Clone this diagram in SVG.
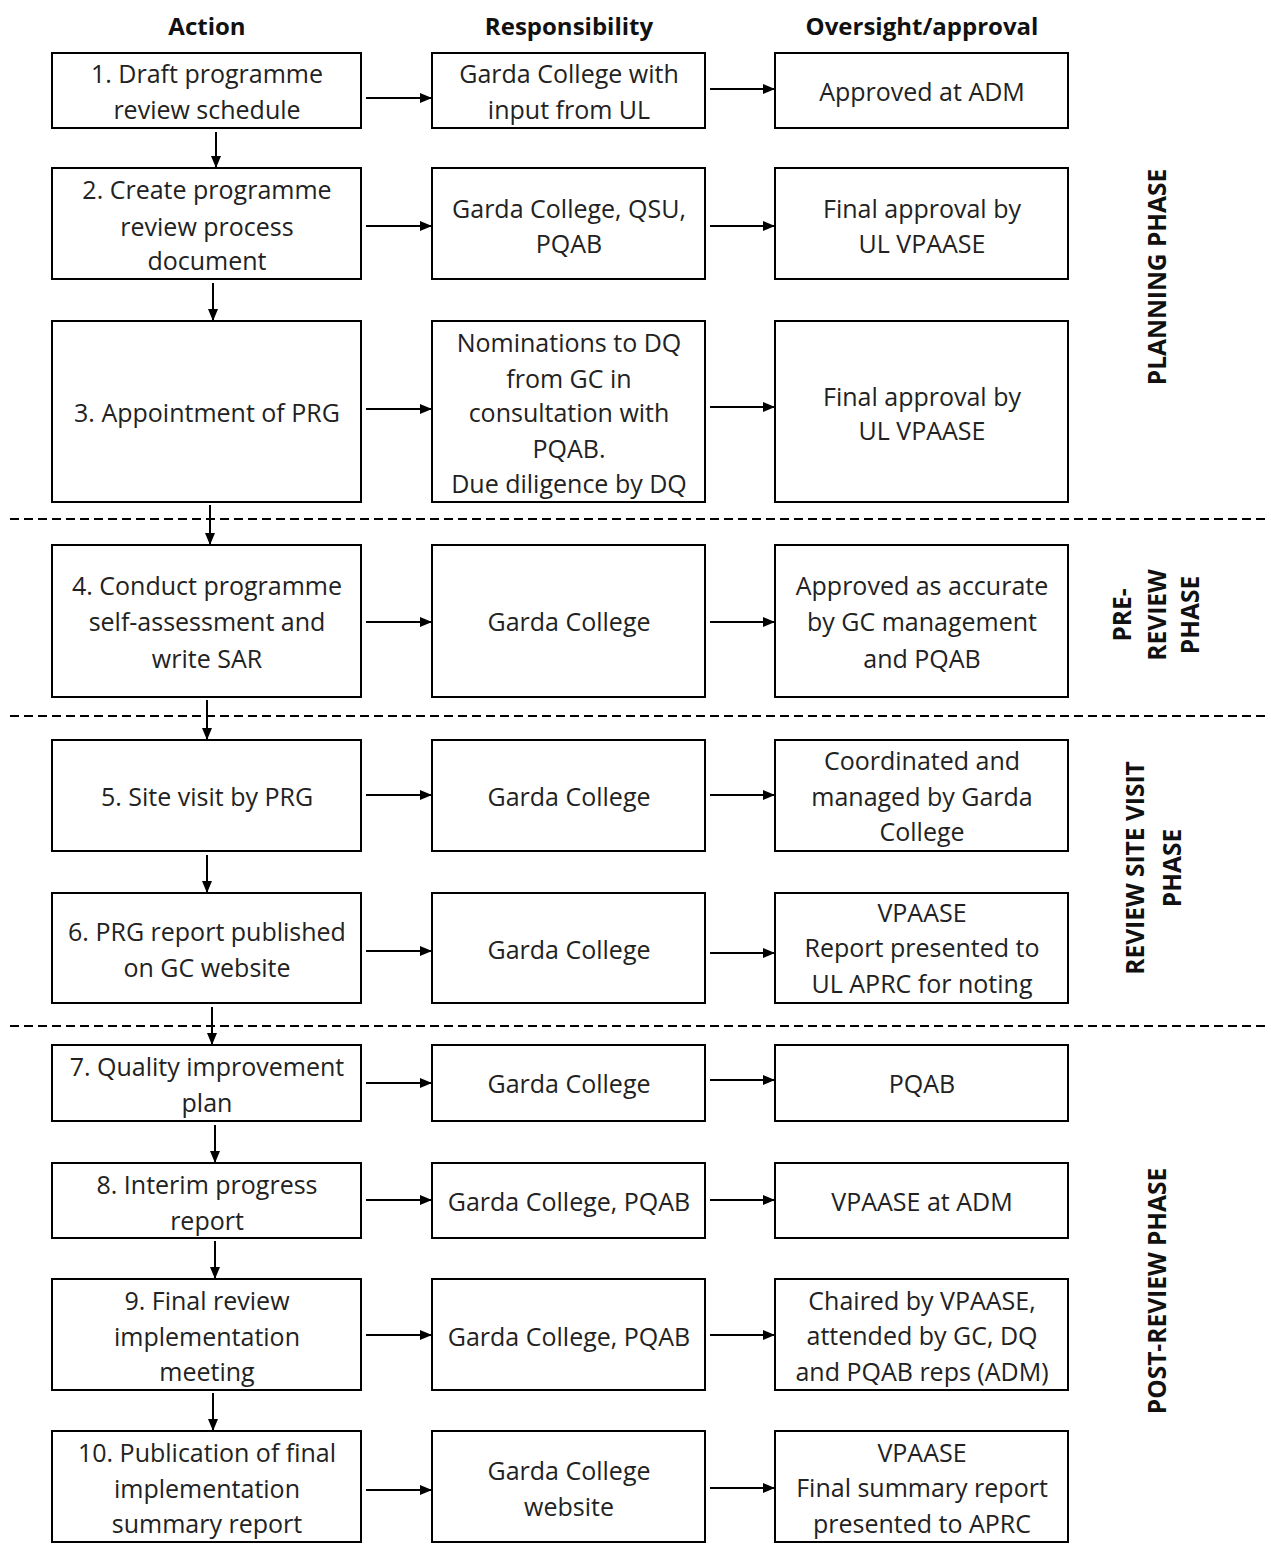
<svg xmlns="http://www.w3.org/2000/svg" width="1271" height="1551" viewBox="0 0 1271 1551">
<defs>
<marker id="ah" markerWidth="12" markerHeight="10" refX="12" refY="5" orient="auto" markerUnits="userSpaceOnUse">
<path d="M0,0 L12,5 L0,10 Z" fill="#000"/>
</marker>
<style>
.box{fill:#fff;stroke:#000;stroke-width:2}
.t{font-family:"Open Sans","Liberation Sans",sans-serif;font-size:25px;fill:#222;text-anchor:middle}
.h{font-family:"Open Sans","Liberation Sans",sans-serif;font-size:24px;font-weight:bold;fill:#111;text-anchor:middle}
.ph{font-family:"Open Sans","Liberation Sans",sans-serif;font-size:24.5px;font-weight:bold;fill:#111;text-anchor:middle}
.c{stroke:#000;stroke-width:2;fill:none;marker-end:url(#ah)}
.d{stroke:#000;stroke-width:2;stroke-dasharray:9 5;fill:none}
</style>
</defs>
<rect width="1271" height="1551" fill="#fff"/>
<g id="headers">
<text class="h" x="207" y="35">Action</text>
<text class="h" x="569" y="35">Responsibility</text>
<text class="h" x="922" y="35">Oversight/approval</text>
</g>
<g id="phase-dividers">
<line class="d" x1="10" y1="519" x2="1268" y2="519"/>
<line class="d" x1="10" y1="716" x2="1268" y2="716"/>
<line class="d" x1="10" y1="1026" x2="1268" y2="1026"/>
</g>
<g id="phase-labels">
<text class="ph" transform="translate(1166,277) rotate(-90)">PLANNING PHASE</text>
<text class="ph" transform="translate(1131,615) rotate(-90)">PRE-</text>
<text class="ph" transform="translate(1166,615) rotate(-90)">REVIEW</text>
<text class="ph" transform="translate(1199,615) rotate(-90)">PHASE</text>
<text class="ph" transform="translate(1144,868) rotate(-90)">REVIEW SITE VISIT</text>
<text class="ph" transform="translate(1181,868) rotate(-90)">PHASE</text>
<text class="ph" transform="translate(1166,1291) rotate(-90)">POST-REVIEW PHASE</text>
</g>
<g id="connectors">
<line class="c" x1="366" y1="98" x2="432" y2="98"/>
<line class="c" x1="710" y1="89" x2="775" y2="89"/>
<line class="c" x1="366" y1="226" x2="432" y2="226"/>
<line class="c" x1="710" y1="226" x2="775" y2="226"/>
<line class="c" x1="366" y1="409" x2="432" y2="409"/>
<line class="c" x1="710" y1="407" x2="775" y2="407"/>
<line class="c" x1="366" y1="622" x2="432" y2="622"/>
<line class="c" x1="710" y1="622" x2="775" y2="622"/>
<line class="c" x1="366" y1="795" x2="432" y2="795"/>
<line class="c" x1="710" y1="795" x2="775" y2="795"/>
<line class="c" x1="366" y1="951" x2="432" y2="951"/>
<line class="c" x1="710" y1="953" x2="775" y2="953"/>
<line class="c" x1="366" y1="1083" x2="432" y2="1083"/>
<line class="c" x1="710" y1="1080" x2="775" y2="1080"/>
<line class="c" x1="366" y1="1200" x2="432" y2="1200"/>
<line class="c" x1="710" y1="1200" x2="775" y2="1200"/>
<line class="c" x1="366" y1="1335" x2="432" y2="1335"/>
<line class="c" x1="710" y1="1335" x2="775" y2="1335"/>
<line class="c" x1="366" y1="1490" x2="432" y2="1490"/>
<line class="c" x1="710" y1="1488" x2="775" y2="1488"/>
<line class="c" x1="216" y1="132" x2="216" y2="168"/>
<line class="c" x1="213" y1="283" x2="213" y2="321"/>
<line class="c" x1="210" y1="505" x2="210" y2="545"/>
<line class="c" x1="207" y1="700" x2="207" y2="740"/>
<line class="c" x1="207" y1="855" x2="207" y2="893"/>
<line class="c" x1="212" y1="1007" x2="212" y2="1045"/>
<line class="c" x1="215" y1="1125" x2="215" y2="1163"/>
<line class="c" x1="215" y1="1241" x2="215" y2="1279"/>
<line class="c" x1="213" y1="1393" x2="213" y2="1431"/>
</g>
<g id="row1-action"><rect class="box" x="52" y="53" width="309" height="75"/><text class="t" x="207" y="83">1. Draft programme</text><text class="t" x="207" y="119">review schedule</text></g>
<g id="row1-resp"><rect class="box" x="432" y="53" width="273" height="75"/><text class="t" x="569" y="83">Garda College with</text><text class="t" x="569" y="119">input from UL</text></g>
<g id="row1-over"><rect class="box" x="775" y="53" width="293" height="75"/><text class="t" x="922" y="101">Approved at ADM</text></g>

<g id="row2-action"><rect class="box" x="52" y="168" width="309" height="111"/><text class="t" x="207" y="199">2. Create programme</text><text class="t" x="207" y="236">review process</text><text class="t" x="207" y="270">document</text></g>
<g id="row2-resp"><rect class="box" x="432" y="168" width="273" height="111"/><text class="t" x="569" y="218">Garda College, QSU,</text><text class="t" x="569" y="253">PQAB</text></g>
<g id="row2-over"><rect class="box" x="775" y="168" width="293" height="111"/><text class="t" x="922" y="218">Final approval by</text><text class="t" x="922" y="253">UL VPAASE</text></g>

<g id="row3-action"><rect class="box" x="52" y="321" width="309" height="181"/><text class="t" x="207" y="422">3. Appointment of PRG</text></g>
<g id="row3-resp"><rect class="box" x="432" y="321" width="273" height="181"/><text class="t" x="569" y="352">Nominations to DQ</text><text class="t" x="569" y="388">from GC in</text><text class="t" x="569" y="422">consultation with</text><text class="t" x="569" y="458">PQAB.</text><text class="t" x="569" y="493">Due diligence by DQ</text></g>
<g id="row3-over"><rect class="box" x="775" y="321" width="293" height="181"/><text class="t" x="922" y="406">Final approval by</text><text class="t" x="922" y="440">UL VPAASE</text></g>

<g id="row4-action"><rect class="box" x="52" y="545" width="309" height="152"/><text class="t" x="207" y="595">4. Conduct programme</text><text class="t" x="207" y="631">self-assessment and</text><text class="t" x="207" y="668">write SAR</text></g>
<g id="row4-resp"><rect class="box" x="432" y="545" width="273" height="152"/><text class="t" x="569" y="631">Garda College</text></g>
<g id="row4-over"><rect class="box" x="775" y="545" width="293" height="152"/><text class="t" x="922" y="595">Approved as accurate</text><text class="t" x="922" y="631">by GC management</text><text class="t" x="922" y="668">and PQAB</text></g>

<g id="row5-action"><rect class="box" x="52" y="740" width="309" height="111"/><text class="t" x="207" y="806">5. Site visit by PRG</text></g>
<g id="row5-resp"><rect class="box" x="432" y="740" width="273" height="111"/><text class="t" x="569" y="806">Garda College</text></g>
<g id="row5-over"><rect class="box" x="775" y="740" width="293" height="111"/><text class="t" x="922" y="770">Coordinated and</text><text class="t" x="922" y="806">managed by Garda</text><text class="t" x="922" y="841">College</text></g>

<g id="row6-action"><rect class="box" x="52" y="893" width="309" height="110"/><text class="t" x="207" y="941">6. PRG report published</text><text class="t" x="207" y="977">on GC website</text></g>
<g id="row6-resp"><rect class="box" x="432" y="893" width="273" height="110"/><text class="t" x="569" y="959">Garda College</text></g>
<g id="row6-over"><rect class="box" x="775" y="893" width="293" height="110"/><text class="t" x="922" y="922">VPAASE</text><text class="t" x="922" y="957">Report presented to</text><text class="t" x="922" y="993">UL APRC for noting</text></g>

<g id="row7-action"><rect class="box" x="52" y="1045" width="309" height="76"/><text class="t" x="207" y="1076">7. Quality improvement</text><text class="t" x="207" y="1112">plan</text></g>
<g id="row7-resp"><rect class="box" x="432" y="1045" width="273" height="76"/><text class="t" x="569" y="1093">Garda College</text></g>
<g id="row7-over"><rect class="box" x="775" y="1045" width="293" height="76"/><text class="t" x="922" y="1093">PQAB</text></g>

<g id="row8-action"><rect class="box" x="52" y="1163" width="309" height="75"/><text class="t" x="207" y="1194">8. Interim progress</text><text class="t" x="207" y="1230">report</text></g>
<g id="row8-resp"><rect class="box" x="432" y="1163" width="273" height="75"/><text class="t" x="569" y="1211">Garda College, PQAB</text></g>
<g id="row8-over"><rect class="box" x="775" y="1163" width="293" height="75"/><text class="t" x="922" y="1211">VPAASE at ADM</text></g>

<g id="row9-action"><rect class="box" x="52" y="1279" width="309" height="111"/><text class="t" x="207" y="1310">9. Final review</text><text class="t" x="207" y="1346">implementation</text><text class="t" x="207" y="1381">meeting</text></g>
<g id="row9-resp"><rect class="box" x="432" y="1279" width="273" height="111"/><text class="t" x="569" y="1346">Garda College, PQAB</text></g>
<g id="row9-over"><rect class="box" x="775" y="1279" width="293" height="111"/><text class="t" x="922" y="1310">Chaired by VPAASE,</text><text class="t" x="922" y="1345">attended by GC, DQ</text><text class="t" x="922" y="1381">and PQAB reps (ADM)</text></g>

<g id="row10-action"><rect class="box" x="52" y="1431" width="309" height="111"/><text class="t" x="207" y="1462">10. Publication of final</text><text class="t" x="207" y="1498">implementation</text><text class="t" x="207" y="1533">summary report</text></g>
<g id="row10-resp"><rect class="box" x="432" y="1431" width="273" height="111"/><text class="t" x="569" y="1480">Garda College</text><text class="t" x="569" y="1516">website</text></g>
<g id="row10-over"><rect class="box" x="775" y="1431" width="293" height="111"/><text class="t" x="922" y="1462">VPAASE</text><text class="t" x="922" y="1497">Final summary report</text><text class="t" x="922" y="1533">presented to APRC</text></g>
</svg>
